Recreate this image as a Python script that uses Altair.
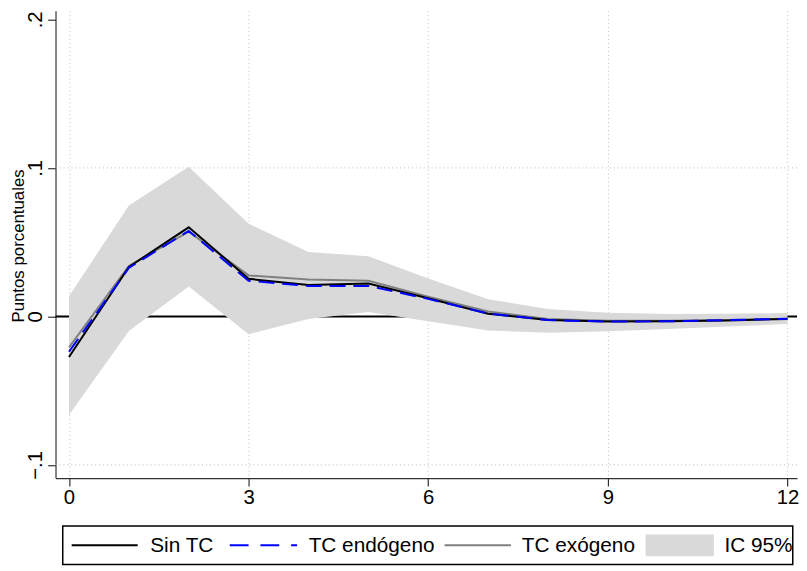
import altair as alt
import pandas as pd

# ---------------- data ----------------
horizon = list(range(13))
sin_tc = [-0.0273, 0.0333, 0.0600, 0.0253, 0.0211, 0.0222, 0.0122, 0.0018, -0.0025, -0.0035, -0.0033, -0.0027, -0.0017]
tc_endo = [-0.0238, 0.0327, 0.0576, 0.0240, 0.0205, 0.0205, 0.0118, 0.0020, -0.0025, -0.0035, -0.0033, -0.0025, -0.0016]
tc_exo = [-0.0209, 0.0340, 0.0570, 0.0276, 0.0249, 0.0240, 0.0133, 0.0033, -0.0018, -0.0030, -0.0030, -0.0024, -0.0015]
ci_hi = [0.0136, 0.0747, 0.1007, 0.0624, 0.0433, 0.0405, 0.0256, 0.0116, 0.0049, 0.0024, 0.0016, 0.0018, 0.0022]
ci_lo = [-0.0664, -0.0098, 0.0202, -0.0120, -0.0018, 0.0029, -0.0033, -0.0095, -0.0110, -0.0100, -0.0085, -0.0068, -0.0052]

x_ticks = [0, 3, 6, 9, 12]
y_ticks = [-0.1, 0, 0.1, 0.2]
grid_y = [-0.1, 0.1]
zero_y = [0]

series_names = ["Sin TC", "TC endógeno", "TC exógeno"]
legend_ci = "IC 95%"
y_title = "Puntos porcentuales"

FONT = "Liberation Sans, Arial, Helvetica, sans-serif"

df = pd.DataFrame({
    "h": horizon, "sin": sin_tc, "endo": tc_endo, "exo": tc_exo,
    "hi": ci_hi, "lo": ci_lo,
})

W, H = 749, 472
xscale = alt.Scale(domain=[-0.225, 12.16], nice=False, zero=False)
yscale = alt.Scale(domain=[-0.1089, 0.2058], nice=False, zero=False)

xaxis = alt.Axis(
    values=x_ticks, format="d", grid=True, gridDash=[1, 3], gridColor="#bdbdbd", gridWidth=1,
    domainColor="#333333", domainWidth=1.2, tickColor="#333333", tickWidth=1.2,
    tickSize=8, labelFontSize=20.5, labelFont=FONT, labelColor="black",
    labelPadding=2, labelFlush=False, title=None,
)
yaxis = alt.Axis(
    values=y_ticks, grid=False,
    domainColor="#333333", domainWidth=1.2, tickColor="#333333", tickWidth=1.2,
    tickSize=8, labelFontSize=20.5, labelFont=FONT, labelColor="black",
    labelAngle=270, labelAlign="center", labelBaseline="bottom", labelPadding=2,
    labelExpr="datum.value == 0 ? '0' : replace(format(datum.value, '.1f'), '0.', '.')",
    title=y_title, titleFont=FONT, titleFontSize=17, titleFontWeight="normal",
    titleColor="black", titleAngle=270, titleX=-37, titleY=237,
    titleAlign="center", titleBaseline="middle",
)

base = alt.Chart(df)

grid = alt.Chart(pd.DataFrame({"y": grid_y})).mark_rule(
    color="#bdbdbd", strokeDash=[1, 3], strokeWidth=1
).encode(y=alt.Y("y:Q", scale=yscale, axis=yaxis))

zero = alt.Chart(pd.DataFrame({"y": zero_y})).mark_rule(
    color="black", strokeWidth=2
).encode(y=alt.Y("y:Q", scale=yscale))

area = base.mark_area(color="#d9d9d9", opacity=1).encode(
    x=alt.X("h:Q", scale=xscale, axis=xaxis),
    y=alt.Y("lo:Q", scale=yscale),
    y2="hi:Q",
)

l_exo = base.mark_line(color="#808080", strokeWidth=2).encode(
    x=alt.X("h:Q", scale=xscale), y=alt.Y("exo:Q", scale=yscale))
l_sin = base.mark_line(color="black", strokeWidth=2).encode(
    x=alt.X("h:Q", scale=xscale), y=alt.Y("sin:Q", scale=yscale))
l_endo = base.mark_line(color="#0000ff", strokeWidth=2, strokeDash=[16, 8]).encode(
    x=alt.X("h:Q", scale=xscale), y=alt.Y("endo:Q", scale=yscale))

# ---------------- legend (manual) ----------------
one = pd.DataFrame({"k": [0]})
LY = 539.8
box = alt.Chart(one).mark_rect(fill="white", stroke="black", strokeWidth=1.5).encode(
    x=alt.value(7.3), x2=alt.value(744.7), y=alt.value(520.3), y2=alt.value(559.3))
sw1 = alt.Chart(one).mark_rule(color="black", strokeWidth=2).encode(
    x=alt.value(16.3), x2=alt.value(83), y=alt.value(LY))
sw2 = alt.Chart(one).mark_rule(color="#0000ff", strokeWidth=2, strokeDash=[19, 12]).encode(
    x=alt.value(176), x2=alt.value(244), y=alt.value(LY))
sw3 = alt.Chart(one).mark_rule(color="#808080", strokeWidth=2).encode(
    x=alt.value(393), x2=alt.value(460), y=alt.value(LY))
sw4 = alt.Chart(one).mark_rect(fill="#d9d9d9").encode(
    x=alt.value(596), x2=alt.value(665), y=alt.value(529), y2=alt.value(551))

def ltext(label, xpos):
    return alt.Chart(one).mark_text(
        text=label, align="left", baseline="middle", font=FONT, fontSize=21, color="black"
    ).encode(x=alt.value(xpos), y=alt.value(LY + 1))

t1 = ltext(series_names[0], 95.7)
t2 = ltext(series_names[1], 255.7)
t3 = ltext(series_names[2], 471)
t4 = ltext(legend_ci, 675.7)

chart = alt.layer(
    grid, zero, area, l_exo, l_sin, l_endo,
    box, sw1, sw2, sw3, sw4, t1, t2, t3, t4,
).properties(
    width=W, height=H,
    autosize=alt.AutoSizeParams(type="none"),
    padding={"left": 48, "top": 0, "right": 2, "bottom": 90},
    background="white",
).configure_view(stroke=None)

chart.save("out.html", embed_options={"renderer": "svg", "actions": False})
